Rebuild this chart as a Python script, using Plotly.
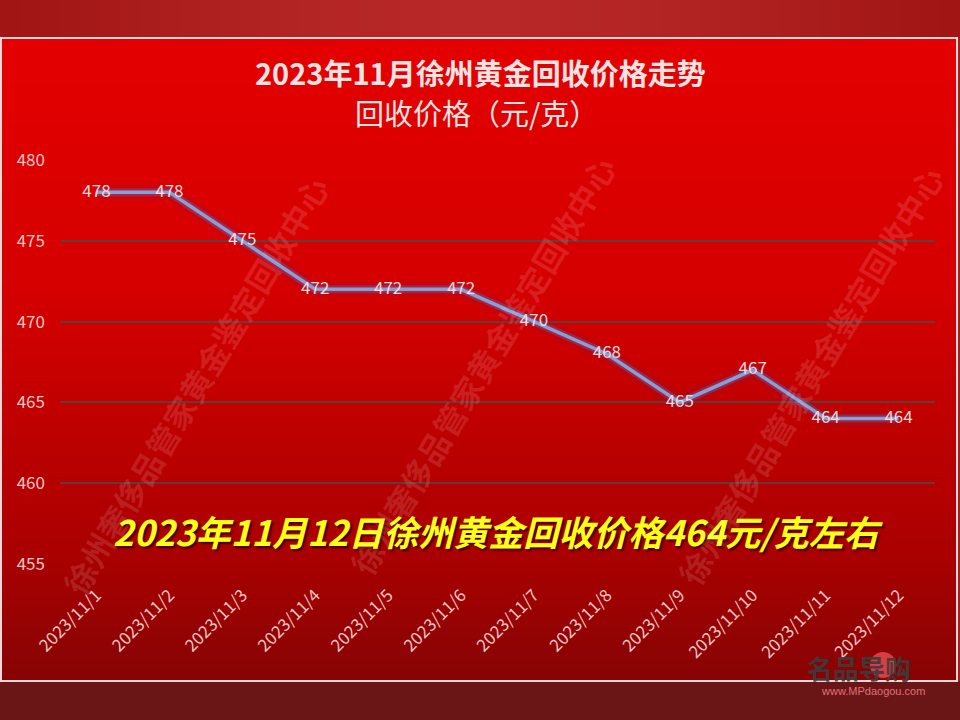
import plotly.graph_objects as go

dates = ["2023/11/1", "2023/11/2", "2023/11/3", "2023/11/4", "2023/11/5", "2023/11/6",
         "2023/11/7", "2023/11/8", "2023/11/9", "2023/11/10", "2023/11/11", "2023/11/12"]
prices = [478, 478, 475, 472, 472, 472, 470, 468, 465, 467, 464, 464]
y_ticks = [455, 460, 465, 470, 475, 480]

title_line1 = "2023年11月徐州黄金回收价格走势"
title_line2 = "回收价格（元/克）"
headline = "2023年11月12日徐州黄金回收价格464元/克左右"
watermark = "徐州奢侈品管家黄金鉴定回收中心"

W, H = 960, 720
L, R, T, B = 60, 25, 160, 156
PW, PH = W - L - R, H - T - B
FONT = "Noto Sans CJK SC"


def px(x):
    return (x - L) / PW


def py(y):
    return (H - B - y) / PH


fig = go.Figure()

# soft glow layers + main line
fig.add_trace(go.Scatter(x=dates, y=prices, mode="lines",
                         line=dict(color="rgba(90,40,110,0.16)", width=14),
                         hoverinfo="skip", showlegend=False))
fig.add_trace(go.Scatter(x=dates, y=prices, mode="lines",
                         line=dict(color="rgba(130,120,200,0.25)", width=8),
                         hoverinfo="skip", showlegend=False))
fig.add_trace(go.Scatter(x=dates, y=prices, mode="lines+text",
                         line=dict(color="#7ca3dc", width=3.5),
                         text=[str(p) for p in prices], textposition="middle center",
                         textfont=dict(family=FONT, size=17, color="#f4dada"),
                         showlegend=False))

shapes = []


def lerp(c1, c2, t):
    return tuple(int(round(a + (b - a) * t)) for a, b in zip(c1, c2))


# top band with lighter centre
nb = 48
for i in range(nb):
    t = (i + 0.5) / nb
    k = 1 - abs(2 * t - 1) ** 1.5
    c = lerp((160, 20, 20), (184, 40, 40), k)
    shapes.append(dict(type="rect", xref="paper", yref="paper",
                       x0=px(W * i / nb), x1=px(W * (i + 1) / nb + 0.6),
                       y0=py(38), y1=py(-5), fillcolor="rgb(%d,%d,%d)" % c,
                       line_width=0, layer="below"))
# bottom band
shapes.append(dict(type="rect", xref="paper", yref="paper", x0=px(-20), x1=px(W + 20),
                   y0=py(H + 20), y1=py(681), fillcolor="#6a1616", line_width=0, layer="below"))

# frame gradient
top_px, bot_px = 39, 680
stops = [(0.0, (228, 0, 0)), (0.4, (212, 0, 0)), (0.8, (170, 0, 0)), (1.0, (135, 4, 4))]
n = 60
for i in range(n):
    t = (i + 0.5) / n
    c = stops[-1][1]
    for j in range(len(stops) - 1):
        if stops[j][0] <= t <= stops[j + 1][0]:
            tt = (t - stops[j][0]) / (stops[j + 1][0] - stops[j][0])
            c = lerp(stops[j][1], stops[j + 1][1], tt)
            break
    y_top = top_px + (bot_px - top_px) * i / n
    y_bot = top_px + (bot_px - top_px) * (i + 1) / n + 0.6
    shapes.append(dict(type="rect", xref="paper", yref="paper",
                       x0=px(2), x1=px(956), y0=py(y_bot), y1=py(y_top),
                       fillcolor="rgb(%d,%d,%d)" % c, line_width=0, layer="below"))
# frame border
shapes.append(dict(type="rect", xref="paper", yref="paper",
                   x0=px(1), x1=px(957), y0=py(681), y1=py(38),
                   line=dict(color="#f4d8d8", width=2), fillcolor="rgba(0,0,0,0)", layer="below"))

# logo circle
shapes.append(dict(type="circle", xref="paper", yref="paper",
                   x0=px(870), x1=px(896), y0=py(678), y1=py(652),
                   fillcolor="rgba(232,70,80,0.85)", line_width=0, layer="below"))


def ann(text, x, y, font, **kw):
    d = dict(text=text, x=px(x), y=py(y), xref="paper", yref="paper", showarrow=False,
             xanchor="center", yanchor="middle", font=font)
    d.update(kw)
    return d


annotations = [
    ann(title_line1, 480, 72, dict(family=FONT, size=29, color="#f5e2e2", weight="bold")),
    ann(title_line2, 476, 112, dict(family=FONT, size=29, color="#f5e2e2")),
    ann(headline, 499, 530,
        dict(family=FONT, size=35, color="#ffff1a", weight="bold", style="italic",
             shadow="2px 2px 2px #400000")),
    ann("名品导购", 859, 667, dict(family=FONT, size=26, color="rgba(60,60,60,0.92)",
                                weight="bold")),
    ann("www.MPdaogou.com", 873, 691, dict(family="Liberation Sans", size=11, color="#e0707a")),
]
for cx, cy in [(195, 385), (482, 365), (810, 375)]:
    annotations.append(ann(watermark, cx, cy,
                           dict(family=FONT, size=32, color="rgba(255,255,255,0.12)",
                                weight="bold"), textangle=-59))

fig.update_layout(
    width=W, height=H,
    margin=dict(l=L, r=R, t=T, b=B),
    paper_bgcolor="#a81c1c",
    plot_bgcolor="rgba(0,0,0,0)",
    shapes=shapes,
    annotations=annotations,
    showlegend=False,
    xaxis=dict(type="category", range=[-0.5, 11.5], showgrid=False, zeroline=False,
               showline=False, tickangle=-45, ticks="", ticklabelstandoff=17,
               tickfont=dict(family=FONT, size=17, color="#f0c4c4")),
    yaxis=dict(range=[455, 480], tickvals=y_ticks, showgrid=True,
               gridcolor="rgba(80,70,70,0.85)", gridwidth=1.5, zeroline=False,
               showline=False, ticks="", ticklabelstandoff=14,
               tickfont=dict(family=FONT, size=17, color="#f0c4c4")),
)

fig.write_html("out.html", config={"displayModeBar": False},
               post_script="document.body.style.margin='0';")
